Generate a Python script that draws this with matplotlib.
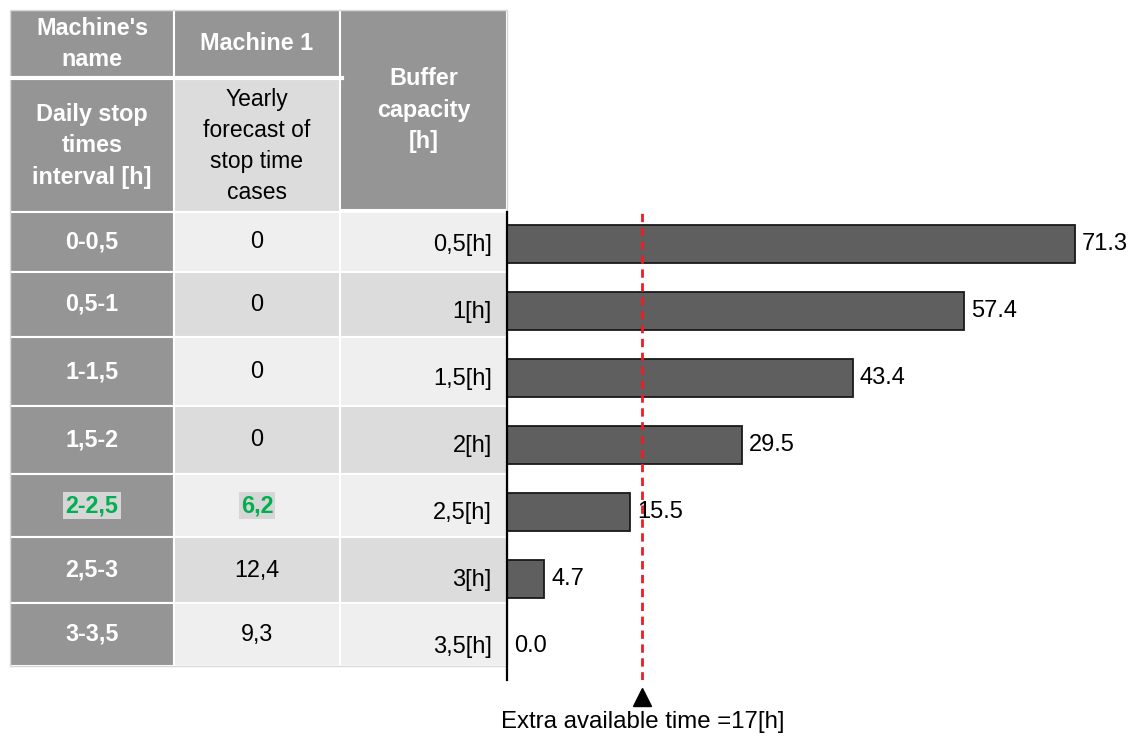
import matplotlib.pyplot as plt
from matplotlib.patches import Rectangle

plt.rcParams['font.family'] = ['Liberation Sans', 'DejaVu Sans']

# data
intervals = ["0-0,5", "0,5-1", "1-1,5", "1,5-2", "2-2,5", "2,5-3", "3-3,5"]
forecasts = ["0", "0", "0", "0", "6,2", "12,4", "9,3"]
buffer_labels = ["0,5[h]", "1[h]", "1,5[h]", "2[h]", "2,5[h]", "3[h]", "3,5[h]"]
buffer_values = [71.3, 57.4, 43.4, 29.5, 15.5, 4.7, 0.0]
extra_time = 17
highlight_row = 4

W, H = 1133, 740
fig = plt.figure(figsize=(W / 100, H / 100), dpi=100)

# table drawn in pixel-like coordinates
tab = fig.add_axes([0, 0, 1, 1])
tab.set_xlim(0, W)
tab.set_ylim(H, 0)
tab.axis("off")

dark = "#959595"
light = "#efefef"
mid = "#dcdcdc"
green = "#00b050"
cols = [10, 174, 340, 507]
top, hsplit, hbot = 10, 78, 212
row_edges = [212, 272, 337, 406, 474, 537, 603, 666]


def cell(x0, x1, y0, y1, color):
    tab.add_patch(Rectangle((x0, y0), x1 - x0, y1 - y0, facecolor=color,
                            edgecolor="white", linewidth=1.5))


# header
cell(cols[0], cols[1], top, hsplit, dark)
cell(cols[1], cols[2], top, hsplit, dark)
cell(cols[0], cols[1], hsplit, hbot, dark)
cell(cols[1], cols[2], hsplit, hbot, mid)
cell(cols[2], cols[3], top, hbot - 2, dark)
tab.plot([cols[0], cols[2] + 2], [hsplit, hsplit], color="white", lw=3)

hkw = dict(ha="center", va="center", color="white", fontweight="bold",
           fontsize=16.8, linespacing=1.45)
tab.text((cols[0] + cols[1]) / 2, 44, "Machine's\nname", **hkw)
tab.text((cols[1] + cols[2]) / 2, 44, "Machine 1", **hkw)
tab.text((cols[0] + cols[1]) / 2, 146, "Daily stop\ntimes\ninterval [h]", **hkw)
tab.text((cols[2] + cols[3]) / 2, 110, "Buffer\ncapacity\n[h]", **hkw)
tab.text((cols[1] + cols[2]) / 2, 146, "Yearly\nforecast of\nstop time\ncases",
         ha="center", va="center", color="black", fontsize=16.5, linespacing=1.45)

# body rows
for i, (iv, fc) in enumerate(zip(intervals, forecasts)):
    y0 = row_edges[i]
    y1 = row_edges[i + 1]
    shade = light if i % 2 == 0 else mid
    cell(cols[0], cols[1], y0, y1, dark)
    cell(cols[1], cols[2], y0, y1, shade)
    cell(cols[2], cols[3], y0, y1, shade)
    yc = (y0 + y1) / 2
    if i == highlight_row:
        box = dict(facecolor="#d6d6d6", edgecolor="none", pad=1.5)
        tab.text((cols[0] + cols[1]) / 2, yc, iv, ha="center", va="center",
                 color=green, fontweight="bold", fontsize=16.8, bbox=box)
        tab.text((cols[1] + cols[2]) / 2, yc, fc, ha="center", va="center",
                 color=green, fontweight="bold", fontsize=16.8, bbox=box)
    else:
        tab.text((cols[0] + cols[1]) / 2, yc, iv, ha="center", va="center",
                 color="white", fontweight="bold", fontsize=16.8)
        tab.text((cols[1] + cols[2]) / 2, yc, fc, ha="center", va="center",
                 color="black", fontsize=16.8)

tab.add_patch(Rectangle((cols[0], top), cols[3] - cols[0], 666 - top,
                        facecolor="none", edgecolor="#d8d8d8", linewidth=1))

# bar chart
ax = fig.add_axes([507 / W, (H - 680) / H, (W - 507) / W, (680 - 212) / H])
ax.patch.set_alpha(0)
ypos = list(range(len(buffer_values)))
ax.barh(ypos, buffer_values, height=0.56, color="#5f5f5f",
        edgecolor="#1a1a1a", linewidth=1.3)
for y, v in zip(ypos, buffer_values):
    ax.annotate(f"{v:.1f}", (v, y), xytext=(5, 0), textcoords="offset points",
                ha="left", va="center", fontsize=17)
    ax.annotate(buffer_labels[y], (0, y), xytext=(-11, -1), textcoords="offset points",
                ha="right", va="center", fontsize=17, annotation_clip=False)

ax.set_xlim(0, (W - 507) / 7.966)
ax.set_ylim(6.507, -0.478)
ax.axvline(extra_time, color="#ee1c25", ls=(0, (3, 2)), lw=2)
ax.plot([extra_time], [6.76], marker="^", color="black", markersize=13,
        clip_on=False)
ax.text(extra_time, 7.14, f"Extra available time ={extra_time}[h]",
        ha="center", va="center", fontsize=17.3, clip_on=False)

for s in ["top", "right", "bottom"]:
    ax.spines[s].set_visible(False)
ax.spines["left"].set_linewidth(1.6)
ax.set_xticks([])
ax.set_yticks([])

plt.savefig("out.png", dpi=100)
